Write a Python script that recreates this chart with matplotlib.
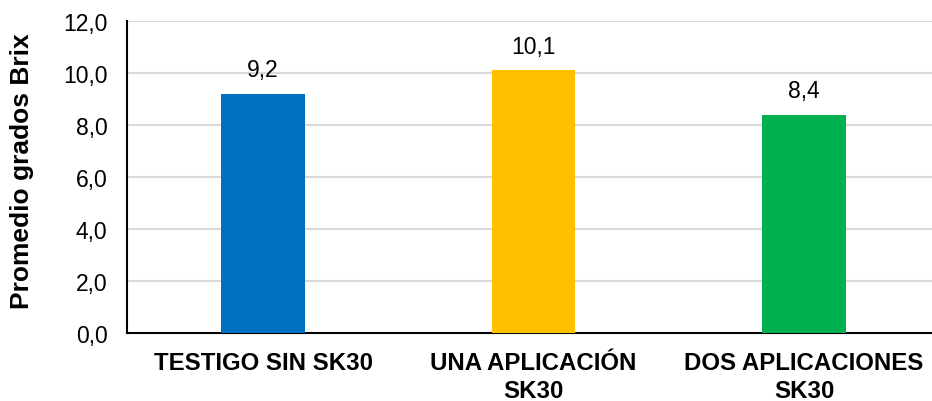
import matplotlib
matplotlib.use("Agg")
import matplotlib.pyplot as plt

categories = ["TESTIGO SIN SK30", "UNA APLICACIÓN\nSK30", "DOS APLICACIONES\nSK30"]
values = [9.2, 10.1, 8.4]
colors = ["#0070C0", "#FFC000", "#00B050"]
yticks = [0, 2, 4, 6, 8, 10, 12]

plt.rcParams['font.family'] = ['Liberation Sans', 'DejaVu Sans']

fig = plt.figure(figsize=(9.32, 4.02), dpi=100)
ax = fig.add_axes([127/932, 1-334/402, 1-127/932, (334-22)/402])

x = list(range(len(categories)))
ax.bar(x, values, width=0.31, color=colors, zorder=3)
for xi, v in zip(x, values):
    ax.text(xi, v + 0.48, f"{v:.1f}".replace(".", ","), ha="center", va="bottom", fontsize=16.5, zorder=4)

ax.set_xlim(-0.503, 2.473)
ax.set_ylim(0, 12)
ax.set_yticks(yticks)
ax.set_yticklabels([f"{t:.1f}".replace(".", ",") for t in yticks], fontsize=16.5)
ax.set_xticks(x)
ax.set_xticklabels(categories, fontsize=17.3, fontweight="bold", linespacing=1.25)
ax.tick_params(axis="y", length=0, pad=14)
ax.tick_params(axis="x", length=0, pad=13)
ax.yaxis.grid(True, color="#d9d9d9", linewidth=1.5, zorder=0)
ax.set_axisbelow(True)
for s in ["top", "right"]:
    ax.spines[s].set_visible(False)
for s in ["left", "bottom"]:
    ax.spines[s].set_linewidth(1.5)
    ax.spines[s].set_color("black")
ax.set_ylabel("Promedio grados Brix", fontsize=19, fontweight="bold")
ax.yaxis.set_label_coords(-(127-34)/805, 0.521)

fig.savefig("out.png", dpi=100)
